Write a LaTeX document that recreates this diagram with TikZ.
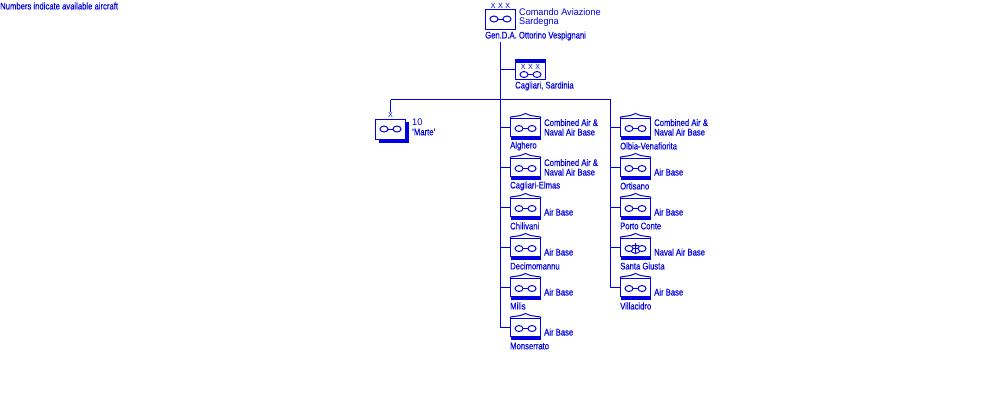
\documentclass[tikz,border=0pt]{standalone}
\usepackage{fontspec}
\setmainfont[FakeStretch=0.8,FakeBold=0.3]{Liberation Sans}
\newfontfamily\bigfont[FakeStretch=0.95]{Liberation Sans}
\usetikzlibrary{positioning}
\definecolor{orgblue}{RGB}{0,0,224}
\tikzset{
  unitbox/.style={draw=orgblue,fill=white,line width=1pt,minimum width=30pt,minimum height=20pt,inner sep=0pt},
  basebox/.style={draw=orgblue,fill=white,line width=1pt,minimum width=30pt,minimum height=20pt,inner sep=0pt},
  orgline/.style={draw=orgblue,line width=1pt},
  lbl/.style={text=orgblue,font=\fontsize{9.6pt}{9.5pt}\selectfont,inner sep=0pt,align=left},
  biglbl/.style={text=orgblue,font=\bigfont\fontsize{9.6pt}{9pt}\selectfont,inner sep=0pt,align=left},
  sizelbl/.style={text=orgblue,font=\bigfont\fontsize{7.5pt}{7pt}\selectfont,inner sep=0pt},
  wings/.pic={
    \draw[orgline] (-10,0) -- (10,0);
    \draw[orgline,fill=white] (-6.5,0) ellipse (4 and 3);
    \draw[orgline,fill=white] (6.5,0) ellipse (4 and 3);
  },
}
\begin{document}
\begin{tikzpicture}[x=1pt,y=-1pt]
  \useasboundingbox (0,0) rectangle (1000,400);
  \node[lbl,anchor=west] (note) at (0,6) {Numbers indicate available aircraft};

  % Command
  \node[unitbox] (hq) at (500.5,19) {};
  \pic at (hq.center) {wings};
  \node[sizelbl] (hqsize) at (500.5,5.5) {X\,\,X\,\,X};
  \node[biglbl,anchor=west] (hqname) at (519,17.5) {Comando Aviazione\\Sardegna};
  \node[lbl,anchor=west] (hqcmd) at (485,36) {Gen.D.A. Ottorino Vespignani};

  % Spines
  \coordinate (trunk) at (500.5,42);
  \coordinate (cross) at (500.5,99.5);
  \coordinate (rightend) at (610.5,99.5);
  \coordinate (leftend) at (390.5,99.5);

  % Sector
  \node[unitbox] (sector) at (530.5,69) {};
  \fill[orgblue] (sector.north west) rectangle ([yshift=-4pt]sector.north east);
  \pic at (530.5,74.5) {wings};
  \node[sizelbl] (sectorsize) at (530.5,66.5) {X\,\,X\,\,X};
  \node[lbl,anchor=west] (sectorname) at (515,86) {Cagliari, Sardinia};
  \draw[orgline] (trunk |- sector.west) -- (sector.west);

  % Group
  \fill[orgblue] (378.5,122) rectangle (409,142.5);
  \node[unitbox] (marte) at (390.5,129) {};
  \pic at (marte.center) {wings};
  \node[sizelbl] (martesize) at (390.5,115) {X};
  \node[biglbl,anchor=west] (marteno) at (412,122.5) {10};
  \node[lbl,anchor=west] (martename) at (412,132) {'Marte'};
  \draw[orgline] (leftend) -- (rightend);
  \draw[orgline] (leftend) -- (martesize.north);

  % Bases
  \foreach \nm/\xx/\yy/\city/\kind in {
      alghero/525.5/129/Alghero/{Combined Air \&\\Naval Air Base},
      elmas/525.5/169/Cagliari-Elmas/{Combined Air \&\\Naval Air Base},
      chilivani/525.5/209/Chilivani/Air Base,
      decimo/525.5/249/Decimomannu/Air Base,
      milis/525.5/289/Milis/Air Base,
      monserrato/525.5/329/Monserrato/Air Base,
      olbia/635.5/129/Olbia-Venafiorita/{Combined Air \&\\Naval Air Base},
      ortisano/635.5/169/Ortisano/Air Base,
      conte/635.5/209/Porto Conte/Air Base,
      giusta/635.5/249/Santa Giusta/Naval Air Base,
      villacidro/635.5/289/Villacidro/Air Base} {
    \fill[orgblue] (\xx-15,\yy+6) rectangle (\xx+15.5,\yy+10.5);
    \node[basebox,minimum height=18pt] (\nm) at (\xx,\yy-2) {};
    \pic at (\xx,\yy-0.5) {wings};
    \draw[orgline] (\xx-15,\yy-11) -- (\xx-15,\yy-12) -- (\xx-5,\yy-13.5) -- (\xx,\yy-15.5) -- (\xx+5,\yy-13.5) -- (\xx+15,\yy-12) -- (\xx+15,\yy-11);
    \node[lbl,anchor=base west] (\nm-kind) at (\xx+18.5,\yy+6.5) {\kind};
    \node[lbl,anchor=west] (\nm-city) at (\xx-15.5,\yy+17) {\city};
  }
  % Anchor on Santa Giusta
  \draw[orgline] (635.5,243) -- (635.5,254) (632,245.5) -- (639,245.5) (631,251) .. controls (632,254) and (639,254) .. (640,251);

  % Connectors
  \draw[orgline] (trunk) -- (trunk |- monserrato.west) -- (monserrato.west);
  \draw[orgline] (rightend) -- (rightend |- villacidro.west) -- (villacidro.west);
  \foreach \nm in {alghero,elmas,chilivani,decimo,milis}
    \draw[orgline] (trunk |- \nm.west) -- (\nm.west);
  \foreach \nm in {olbia,ortisano,conte,giusta}
    \draw[orgline] (rightend |- \nm.west) -- (\nm.west);
\end{tikzpicture}
\end{document}
